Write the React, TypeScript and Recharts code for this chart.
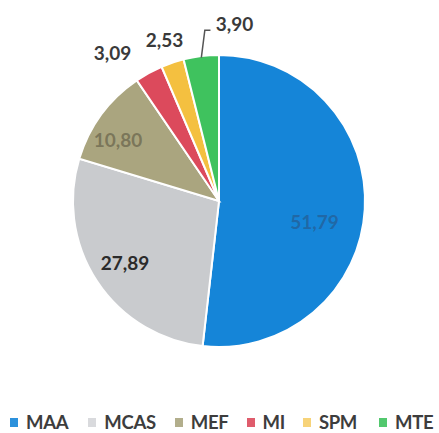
import React from "react";
import { PieChart, Pie, Cell } from "recharts";

const categories = ["MAA", "MCAS", "MEF", "MI", "SPM", "MTE"];
const values = [51.79, 27.89, 10.8, 3.09, 2.53, 3.9];
const valueLabels = ["51,79", "27,89", "10,80", "3,09", "2,53", "3,90"];

const colors = ["#1585d8", "#c9cbce", "#aaa57f", "#dc4a5c", "#f4c040", "#3fc25e"];
// label placement style: radius factor relative to outer radius, angle shift (deg), text color, opacity
const labelStyle = [
  { rf: 0.67, shift: -9, fill: "#2a4f7a", opacity: 0.55 },
  { rf: 0.77, shift: 0, fill: "#2b2b2b", opacity: 1 },
  { rf: 0.81, shift: 5, fill: "#6e6a50", opacity: 0.8 },
  { rf: 1.25, shift: 7, fill: "#3a3a3a", opacity: 1 },
  { rf: 1.17, shift: 0, fill: "#3a3a3a", opacity: 1 },
  { rf: 1.22, shift: -12, fill: "#3a3a3a", opacity: 1 },
];
const legendGaps = [20, 19, 18, 18, 22, 0];

const data = categories.map((name, i) => ({ name, value: values[i], label: valueLabels[i] }));

const RAD = Math.PI / 180;

const renderLabel = (props: any) => {
  const { cx, cy, midAngle, outerRadius, index } = props;
  const st = labelStyle[index];
  const a = (midAngle + st.shift) * RAD;
  const r = outerRadius * st.rf;
  const x = cx + r * Math.cos(a);
  const y = cy - r * Math.sin(a);
  const elems: any[] = [];
  if (index === 5) {
    const m = midAngle * RAD;
    const x0 = cx + outerRadius * 0.99 * Math.cos(m);
    const y0 = cy - outerRadius * 0.99 * Math.sin(m);
    const x1 = x0 + 3.5;
    const y1 = cy - outerRadius * 1.17;
    const x2 = x - 24;
    elems.push(
      <polyline
        key="leader"
        points={`${x0},${y0} ${x1},${y1} ${x2},${y1}`}
        fill="none"
        stroke="#555"
        strokeWidth={1.5}
      />
    );
  }
  elems.push(
    <text
      key="t"
      x={x}
      y={y}
      fill={st.fill}
      fillOpacity={st.opacity}
      textAnchor="middle"
      dominantBaseline="central"
      fontFamily="Lato, 'Open Sans', sans-serif"
      fontWeight={700}
      fontSize={19}
    >
      {valueLabels[index]}
    </text>
  );
  return <g key={`lbl-${index}`}>{elems}</g>;
};

const LegendRow = () => (
  <div
    style={{
      position: "absolute",
      left: 10,
      top: 410,
      display: "flex",
      alignItems: "center",
      fontFamily: "Lato, 'Open Sans', sans-serif",
      fontWeight: 700,
      fontSize: 18.5,
      letterSpacing: -0.3,
      color: "#3d3d3d",
      whiteSpace: "nowrap",
      lineHeight: "24px",
    }}
  >
    {categories.map((c, i) => (
      <div key={c} style={{ display: "flex", alignItems: "center", marginRight: legendGaps[i] }}>
        <span
          style={{
            display: "inline-block",
            width: 8,
            height: 9,
            background: colors[i],
            marginRight: 8,
            opacity: i === 1 || i === 4 ? 0.7 : 0.9,
          }}
        />
        <span>{c}</span>
      </div>
    ))}
  </div>
);

export default function App() {
  return (
    <div style={{ position: "absolute", left: 0, top: 0, width: 439, height: 433, background: "#fff" }}>
      <PieChart width={439} height={433} margin={{ top: 0, right: 0, bottom: 0, left: 0 }}>
        <Pie
          data={data}
          dataKey="value"
          nameKey="name"
          cx={219}
          cy={201}
          outerRadius={146}
          startAngle={90}
          endAngle={-270}
          stroke="#ffffff"
          strokeWidth={2}
          label={renderLabel}
          labelLine={false}
          isAnimationActive={false}
        >
          {data.map((d, i) => (
            <Cell key={d.name} fill={colors[i]} />
          ))}
        </Pie>
      </PieChart>
      <LegendRow />
    </div>
  );
}
